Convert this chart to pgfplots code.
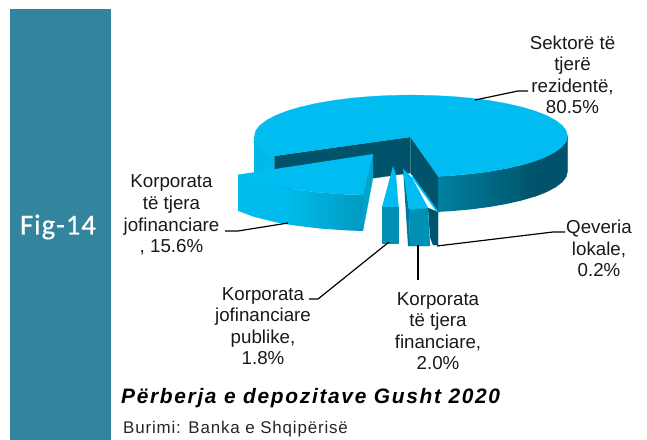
\documentclass[border=0pt]{standalone}
\usepackage{fontspec}
\setmainfont{Liberation Sans}
\newfontfamily\figfont[LetterSpace=3,FakeBold=0.4]{Carlito}
\newfontfamily\titlefont[LetterSpace=8,BoldItalicFont={Liberation Sans Bold Italic}]{Liberation Sans}
\newfontfamily\srcfont[LetterSpace=5]{Liberation Sans}
\usepackage{pgfplots}
\pgfplotsset{compat=1.18}

\definecolor{band}{HTML}{32859C}
\definecolor{topc}{HTML}{00BCF0}
\definecolor{wall}{HTML}{00536A}
\definecolor{frontc}{HTML}{0090B4}
\definecolor{bigwall}{HTML}{00A4CA}
\definecolor{sideleft}{HTML}{00B8E6}
\definecolor{mainfront}{HTML}{0080A0}
\definecolor{ktfwall}{HTML}{0078A0}
\definecolor{bigleft}{HTML}{00BCEC}
\definecolor{bigright}{HTML}{009AC0}

\begin{document}
\begin{tikzpicture}
\begin{axis}[
    at={(0,0)}, anchor=south west,
    width=647bp, height=439bp, scale only axis,
    xmin=0, xmax=647, ymin=0, ymax=439,
    y dir=reverse,
    hide axis,
    clip=false,
    every axis plot/.append style={line width=0.2pt},
]
\path (axis cs:0,0) (axis cs:647,439);
\addplot[fill=band, draw=band] coordinates {(10,9) (110,9) (110,439) (10,439)};

% main slice: outer wall on the left
\addplot[draw=none, left color=sideleft, right color=topc] coordinates {
  (254.5,136) (255.8,141.4) (259.8,146.6) (266.4,151.7) (274.5,156)
  (274.5,192) (266.4,187.7) (259.8,182.6) (255.8,177.4) (254.5,172)};
% main slice: cut walls
\addplot[fill=wall, draw=wall] coordinates {(410.5,137) (274.5,156) (274.5,192) (410.5,173)};
\addplot[fill=wall, draw=wall] coordinates {(410.5,137) (438.2,176.4) (438.2,212.4) (410.5,173)};
% main slice: outer wall on the right
\addplot[fill=wall, draw=wall] coordinates {
  (535.2,161) (546.5,156.5) (555.6,151.7) (562.2,146.6) (566.2,141.4) (567.5,136)
  (567.5,171.5) (566.2,176.9) (562.2,182.1) (555.6,187.2) (546.5,192) (535.2,196.5)};
\addplot[draw=none, left color=mainfront, right color=wall] coordinates {
  (438.2,176.4) (451.5,175.6) (470.9,173.9) (489.3,171.5) (506.3,168.5) (521.7,165) (535.2,161)
  (535.2,196.5) (521.7,200.5) (506.3,204) (489.3,207) (470.9,209.4) (451.5,211.1) (438.2,211.9)};
% main slice: top
\addplot[fill=topc, draw=topc] coordinates {
  (410.5,137) (438.2,176.4) (451.5,175.6) (470.9,173.9) (489.3,171.5) (506.3,168.5) (521.7,165)
  (535.2,161) (546.5,156.5) (555.6,151.7) (562.2,146.6) (566.2,141.4) (567.5,136)
  (566.2,130.6) (562.2,125.4) (555.6,120.3) (546.5,115.5) (535.2,111) (521.7,107)
  (506.3,103.5) (489.3,100.5) (470.9,98.1) (451.5,96.4) (431.4,95.4) (411,95)
  (390.6,95.4) (370.5,96.4) (351.1,98.1) (332.8,100.5) (315.7,103.5) (300.3,107)
  (286.8,111) (275.5,115.5) (266.4,120.3) (259.8,125.4) (255.8,130.6) (254.5,136)
  (255.8,141.4) (259.8,146.6) (266.4,151.7) (274.5,156)};

% Qeveria lokale
\addplot[fill=wall, draw=wall] coordinates {(428,208) (438,212) (438,245) (433,245) (430,237)};
\addplot[fill=topc, draw=topc] coordinates {(412,175) (438,211) (436.5,211.5) (412.5,178)};
% Korporata te tjera financiare
\addplot[fill=ktfwall, draw=ktfwall] coordinates {(403,168) (409,210) (410,246) (408,246)};
\addplot[fill=topc, draw=topc] coordinates {(403,169) (412,178) (428,208) (409,210)};
\addplot[fill=frontc, draw=frontc] coordinates {(409,210) (428,208) (430,246) (410,246)};
% Korporata jofinanciare publike
\addplot[fill=topc, draw=topc] coordinates {(393,166) (396,176) (398.5,207) (382,207)};
\addplot[fill=frontc, draw=frontc] coordinates {(382,207) (398.5,207) (398.5,243) (382,243)};

% Korporata te tjera jofinanciare
\addplot[fill=bigwall, draw=bigwall] coordinates {(373,154) (362.9,194.9) (362.9,231) (373,178)};
\addplot[fill=bigleft, draw=bigleft] coordinates {
  (238,174.7) (253.1,180.4) (272.4,185.4) (285,188)
  (285,224) (272.4,221.4) (253.1,216.4) (238,210.7)};
\addplot[draw=none, left color=bigleft, right color=bigright] coordinates {
  (285,188) (294.8,189.5) (319.5,192.5) (345.8,194.4) (362.9,194.9)
  (362.9,231) (345.8,230.4) (319.5,228.5) (294.8,225.5) (285,224)};
\addplot[fill=topc, draw=topc] coordinates {
  (373,154) (362.9,194.9) (345.8,194.4) (319.5,192.5) (294.8,189.5) (272.4,185.4) (253.1,180.4) (238,174.7)};

% leader lines
\addplot[black, line width=1.2pt] coordinates {(475,100) (518,91) (528,91)};
\addplot[black, line width=1.2pt] coordinates {(225,231) (238,231) (288,223)};
\addplot[black, line width=1.2pt] coordinates {(309,299) (318,299) (389,242)};
\addplot[black, line width=1.2pt] coordinates {(418,245) (418,280)};
\addplot[black, line width=1.2pt] coordinates {(437,246) (553,232) (565,232)};

\node[text=white, font=\figfont\fontsize{29}{32}\selectfont, anchor=center] at (axis cs:58,227) {Fig-14};

\tikzset{lab/.style={align=center, inner sep=0pt, anchor=center, font=\fontsize{18.8}{21.6}\selectfont, text=black!90}}
\node[lab] at (axis cs:572.5,75) {Sektorë të\\tjerë\\rezidentë,\\80.5\%};
\node[lab] at (axis cs:171.5,215) {Korporata\\të tjera\\jofinanciare\\, 15.6\%};
\node[lab] at (axis cs:263,326) {Korporata\\jofinanciare\\publike,\\1.8\%};
\node[lab] at (axis cs:438,331) {Korporata\\të tjera\\financiare,\\2.0\%};
\node[lab] at (axis cs:599,248.5) {Qeveria\\lokale,\\0.2\%};

\node[anchor=west, inner sep=0pt, font=\titlefont\bfseries\itshape\fontsize{21}{24}\selectfont] at (axis cs:121,398) {Përberja e depozitave Gusht 2020};
\node[anchor=west, inner sep=0pt, font=\srcfont\fontsize{17}{18}\selectfont, text=black!85] at (axis cs:123,429) {Burimi: Banka e Shqipërisë};
\end{axis}
\end{tikzpicture}
\end{document}
